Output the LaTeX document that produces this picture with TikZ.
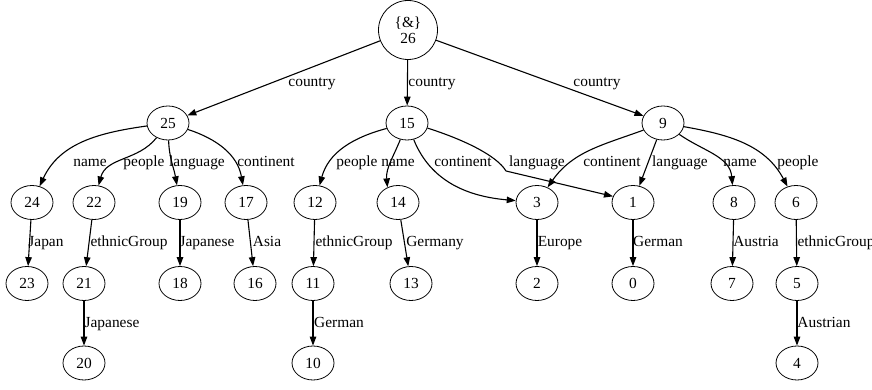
\documentclass[tikz,border=0pt]{standalone}
\usepackage{fontspec}
\setmainfont{Liberation Serif}
\usetikzlibrary{arrows.meta, shapes.geometric}

\begin{document}
\begin{tikzpicture}[
    x=1pt, y=1pt,
    >={Triangle[length=9pt, width=6.5pt]},
    every node/.style={font=\fontsize{15.4}{16.5}\selectfont},
    vtx/.style={draw, ellipse, line width=0.8pt,
                minimum width=42pt, minimum height=34pt, inner sep=0pt},
    root/.style={draw, circle, line width=0.8pt, align=center,
                 minimum size=59pt, inner sep=0pt},
    arr/.style={->, line width=1.1pt},
    lbl/.style={anchor=base, inner sep=0pt},
]
\useasboundingbox (0,0) rectangle (872,390);
% ---- root ----
\node[root] (n26) at (408,360) {\{\&\}\\26};
% ---- level 2: countries ----
\node[vtx] (n25) at (168,267) {25};
\node[vtx] (n15) at (407,267) {15};
\node[vtx] (n9)  at (663,267) {9};
% ---- level 3 ----
\node[vtx] (n24) at (32,187.5)  {24};
\node[vtx] (n22) at (94,187.5)  {22};
\node[vtx] (n19) at (180,187.5) {19};
\node[vtx] (n17) at (246,187.5) {17};
\node[vtx] (n12) at (315,187.5) {12};
\node[vtx] (n14) at (398,187.5) {14};
\node[vtx] (n3)  at (537,187.5) {3};
\node[vtx] (n1)  at (633,187.5) {1};
\node[vtx] (n8)  at (734,187.5) {8};
\node[vtx] (n6)  at (796,187.5) {6};
% ---- level 4 ----
\node[vtx] (n23) at (27,106.5)  {23};
\node[vtx] (n21) at (84,106.5)  {21};
\node[vtx] (n18) at (180,106.5) {18};
\node[vtx] (n16) at (255,106.5) {16};
\node[vtx] (n11) at (313,106.5) {11};
\node[vtx] (n13) at (411,106.5) {13};
\node[vtx] (n2)  at (537,106.5) {2};
\node[vtx] (n0)  at (633,106.5) {0};
\node[vtx] (n7)  at (732,106.5) {7};
\node[vtx] (n5)  at (797,106.5) {5};
% ---- level 5 ----
\node[vtx] (n20) at (84,27)  {20};
\node[vtx] (n10) at (313,27) {10};
\node[vtx] (n4)  at (797,27) {4};

% ---- root edges ----
\draw[arr] (n26) -- (n25) node[lbl] at (312,303) {country};
\draw[arr] (n26) -- (n15) node[lbl] at (432,303) {country};
\draw[arr] (n26) -- (n9)  node[lbl] at (597,303) {country};

% ---- 25 ----
\draw[arr] (n25) to[out=188, in=65] (n24) node[lbl] at (90,223) {name};
\draw[arr] (n25) to[out=232, in=75] (n22) node[lbl] at (144,223) {people};
\draw[arr] (n25) to[out=-88, in=100] (n19) node[lbl] at (197,223) {language};
\draw[arr] (n25) to[out=-18, in=100] (n17) node[lbl] at (266,223) {continent};

% ---- 15 ----
\draw[arr] (n15) to[out=195, in=75] (n12) node[lbl] at (357,223) {people};
\draw[arr] (n15) to[out=248, in=95] (n14.125) node[lbl] at (398,223) {name};
\draw[arr] (n15) to[out=-68, in=175] (n3) node[lbl] at (463,223) {continent};
\draw[arr] (n15.-14) .. controls (465,250) and (497,234) .. (506,219)
    -- (n1.163) node[lbl] at (537,223) {language};

% ---- 9 ----
\draw[arr] (n9) to[out=200, in=55] (n3) node[lbl] at (612,223) {continent};
\draw[arr] (n9) -- (n1) node[lbl] at (680,223) {language};
\draw[arr] (n9) to[out=-35, in=95] (n8) node[lbl] at (740,223) {name};
\draw[arr] (n9) to[out=-10, in=118] (n6) node[lbl] at (798,223) {people};

% ---- values ----
\draw[arr] (n24) -- (n23) node[lbl] at (46,143)  {Japan};
\draw[arr] (n22) -- (n21) node[lbl] at (129,143) {ethnicGroup};
\draw[arr] (n19) -- (n18) node[lbl] at (207,143) {Japanese};
\draw[arr] (n17) -- (n16) node[lbl] at (267,143) {Asia};
\draw[arr] (n12) -- (n11) node[lbl] at (354,143) {ethnicGroup};
\draw[arr] (n14) -- (n13) node[lbl] at (435,143) {Germany};
\draw[arr] (n3) -- (n2)   node[lbl] at (560,143) {Europe};
\draw[arr] (n1) -- (n0)   node[lbl] at (658,143) {German};
\draw[arr] (n8) -- (n7)   node[lbl] at (756,143) {Austria};
\draw[arr] (n6) -- (n5)   node[lbl] at (836,143) {ethnicGroup};
\draw[arr] (n21) -- (n20) node[lbl] at (112,62) {Japanese};
\draw[arr] (n11) -- (n10) node[lbl] at (339,62) {German};
\draw[arr] (n5) -- (n4)   node[lbl] at (824,62) {Austrian};
\end{tikzpicture}
\end{document}
